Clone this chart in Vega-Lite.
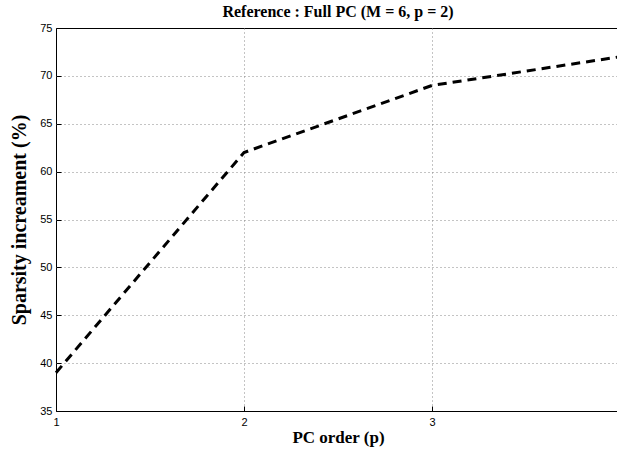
{
  "$schema": "https://vega.github.io/schema/vega-lite/v6.json",
  "width": 564,
  "height": 383,
  "autosize": {"type": "none"},
  "padding": {"left": 56, "top": 28, "right": 0, "bottom": 42},
  "background": "white",
  "title": {
    "text": "Reference : Full PC (M = 6, p = 2)",
    "font": "Liberation Serif",
    "fontSize": 16,
    "fontWeight": "bold",
    "color": "black",
    "anchor": "middle",
    "offset": 2
  },
  "data": {
    "values": [
      {"p": 1, "sparsity": 39},
      {"p": 2, "sparsity": 62},
      {"p": 3, "sparsity": 69},
      {"p": 4, "sparsity": 72}
    ]
  },
  "mark": {
    "type": "line",
    "color": "black",
    "strokeWidth": 3,
    "strokeDash": [9, 6]
  },
  "encoding": {
    "x": {
      "field": "p",
      "type": "quantitative",
      "scale": {"domain": [1, 4], "nice": false, "zero": false},
      "axis": {
        "values": [1, 2, 3, 4],
        "title": "PC order (p)",
        "titleFontSize": 17,
        "titlePadding": 2,
        "labelPadding": 10,
        "labelFlush": false,
        "gridOpacity": {"condition": {"test": "datum.value == 1 || datum.value == 4", "value": 0}, "value": 1}
      }
    },
    "y": {
      "field": "sparsity",
      "type": "quantitative",
      "scale": {"domain": [35, 75], "nice": false, "zero": false},
      "axis": {
        "values": [35, 40, 45, 50, 55, 60, 65, 70, 75],
        "title": "Sparsity increament (%)",
        "titleFontSize": 20,
        "titlePadding": 10,
        "labelPadding": 9,
        "labelFlush": false,
        "gridOpacity": {"condition": {"test": "datum.value == 35 || datum.value == 75", "value": 0}, "value": 1}
      }
    }
  },
  "config": {
    "view": {"stroke": "black", "strokeWidth": 1},
    "axis": {
      "domain": false,
      "ticks": true,
      "tickSize": -5,
      "tickColor": "black",
      "grid": true,
      "gridColor": "#888888",
      "gridDash": [1, 3],
      "gridWidth": 1,
      "labelFont": "Liberation Sans",
      "labelFontSize": 11,
      "labelColor": "black",
      "titleFont": "Liberation Serif",
      "titleFontWeight": "bold",
      "titleColor": "black"
    }
  }
}
